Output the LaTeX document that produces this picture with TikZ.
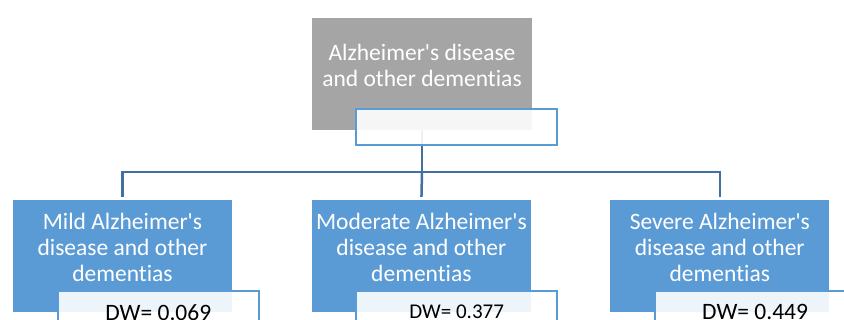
\documentclass[tikz,border=0pt]{standalone}
\usepackage{fontspec}
\setmainfont{Carlito}[Ligatures={TeXOff,CommonOff}]
\usetikzlibrary{positioning,calc}
\definecolor{accblue}{HTML}{5B9BD5}
\definecolor{linkblue}{HTML}{41719C}
\definecolor{headgray}{HTML}{A5A5A5}
\tikzset{
  headbox/.style={fill=headgray,minimum width=220pt,minimum height=112pt,inner sep=0pt},
  levelbox/.style={fill=accblue,minimum width=219pt,minimum height=112pt,inner sep=0pt},
  boxtext/.style={text=white,align=center,inner sep=0pt,
    font=\fontsize{23.5}{26}\selectfont},
  dwbox/.style={draw=accblue,line width=2pt,fill=white,fill opacity=0.9,
    minimum width=201pt,minimum height=36pt,inner sep=0pt,anchor=north west},
  dwtext/.style={inner sep=0pt,font=\fontsize{23.5}{26}\selectfont},
  link/.style={draw=linkblue,line width=2.5pt},
}

\begin{document}
\begin{tikzpicture}
  \useasboundingbox (0,0) rectangle (844pt,-320pt);
  \clip (0,0) rectangle (844pt,-320pt);

  \node[headbox] (top) at (422pt,-74pt) {};
  \node[levelbox] (mild) at (122.5pt,-256pt) {};
  \node[levelbox,right=79.5pt of mild] (moderate) {};
  \node[levelbox,right=79pt of moderate] (severe) {};

  % tree connectors (drawn under the boxes)
  \coordinate (bus) at ($(top.south)+(0,-42pt)$);
  \draw[link] (top.south) -- (bus);
  \draw[link,shorten >=3pt] (bus) -| (mild.north);
  \draw[link,shorten >=3pt] (bus) -- (moderate.north);
  \draw[link,shorten >=3pt] (bus) -| (severe.north);

  \node[boxtext] (toptext) at ([yshift=9pt]top.center) {Alzheimer's disease\\and other dementias};
  \node[boxtext] (mildtext) at ([yshift=9pt]mild.center) {Mild Alzheimer's\\disease and other\\dementias};
  \node[boxtext] (modtext) at ([yshift=9pt]moderate.center) {Moderate Alzheimer's\\disease and other\\dementias};
  \node[boxtext] (sevtext) at ([yshift=9pt]severe.center) {Severe Alzheimer's\\disease and other\\dementias};

  % weight labels overlapping the boxes
  \node[dwbox] (toplbl) at ($(top.south west)+(43pt,22pt)$) {};
  \node[dwbox] (mildlbl) at ($(mild.south west)+(44pt,22.5pt)$) {};
  \node[dwbox] (modlbl) at ($(moderate.south west)+(43.5pt,22.5pt)$) {};
  \node[dwbox] (sevlbl) at ($(severe.south west)+(43.5pt,22.5pt)$) {};

  \node[dwtext] (milddw) at ([yshift=-3.5pt]mildlbl.center) {DW= 0.069};
  \node[dwtext,font=\fontsize{21}{24}\selectfont] (moddw) at ([yshift=-3pt]modlbl.center) {DW= 0.377};
  \node[dwtext] (sevdw) at ([yshift=-3.5pt]sevlbl.center) {DW= 0.449};
\end{tikzpicture}
\end{document}
